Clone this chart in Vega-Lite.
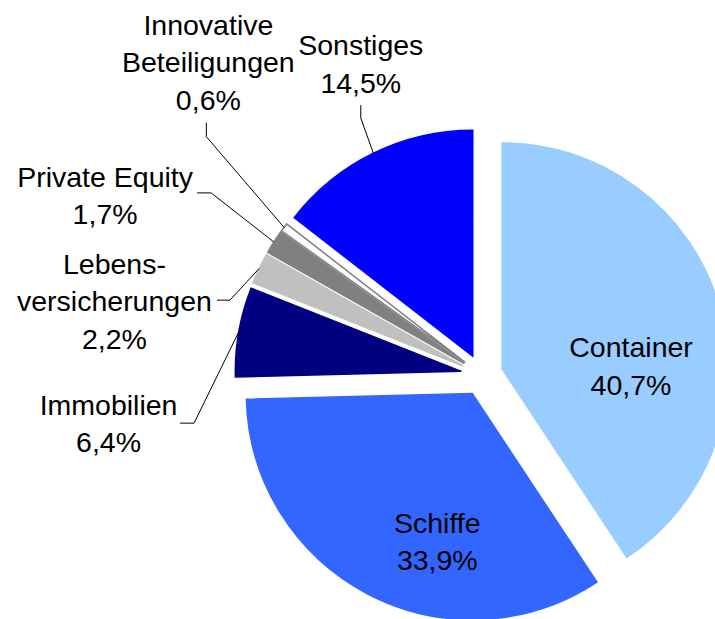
{
  "$schema": "https://vega.github.io/schema/vega-lite/v6.json",
  "width": 715,
  "height": 619,
  "autosize": {"type": "none"},
  "padding": 0,
  "background": "white",
  "config": {"view": {"stroke": null}},
  "params": [
    {"name": "pieX", "value": 482},
    {"name": "pieY", "value": 375},
    {"name": "pieR", "value": 226},
    {"name": "explode", "value": 21},
    {"name": "lh", "value": 37.5},
    {"name": "labels", "value": {
      "Container": {"da": 13.3, "r": 149.3},
      "Schiffe": {"da": -12.5, "r": 172.3},
      "Immobilien": {"da": -17.5, "r": 376.6, "ex": 71.5, "ey": -0.5, "bx": 85.5, "by": -0.5},
      "Lebensversicherungen": {"da": -14.2, "r": 374.9, "ex": 102.5, "ey": -1, "bx": 115.5, "by": -1},
      "Private Equity": {"da": -7.1, "r": 417.5, "ex": 92, "ey": -2.5, "bx": 106, "by": -2.5},
      "Innovative Beteiligungen": {"da": 12.1, "r": 415.6, "ex": -2, "ey": 60.5, "bx": -2, "by": 74.5},
      "Sonstiges": {"da": 4.8, "r": 333.7, "ex": 0, "ey": 41, "bx": 0, "by": 54}
    }}
  ],
  "data": {"values": [
    {"Kategorie": "Container", "Anteil": 40.7},
    {"Kategorie": "Schiffe", "Anteil": 33.9},
    {"Kategorie": "Immobilien", "Anteil": 6.4},
    {"Kategorie": "Lebensversicherungen", "Anteil": 2.2},
    {"Kategorie": "Private Equity", "Anteil": 1.7},
    {"Kategorie": "Innovative Beteiligungen", "Anteil": 0.6},
    {"Kategorie": "Sonstiges", "Anteil": 14.5}
  ]},
  "transform": [
    {"window": [{"op": "sum", "field": "Anteil", "as": "cum"}], "frame": [null, 0]},
    {"calculate": "datum.cum - datum.Anteil", "as": "s0"},
    {"calculate": "(datum.cum - datum.Anteil / 2) * PI / 50", "as": "mid"},
    {"calculate": "replace(replace(datum.Kategorie, 'Lebensversicherungen', 'Lebens-\\nversicherungen'), 'Innovative Beteiligungen', 'Innovative\\nBeteiligungen') + '\\n' + replace(format(datum.Anteil, '.1f'), '.', ',') + '%'", "as": "txt"}
  ],
  "layer": [
    {
      "mark": {
        "type": "arc",
        "radius": 226,
        "strokeWidth": 1.5,
        "x": {"expr": "pieX + explode * sin(datum.mid)"},
        "y": {"expr": "pieY - explode * cos(datum.mid)"}
      },
      "encoding": {
        "theta": {"field": "s0", "type": "quantitative", "scale": {"domain": [0, 100], "range": [0, 6.283185307179586]}},
        "theta2": {"field": "cum"},
        "fill": {
          "field": "Kategorie", "type": "nominal", "legend": null,
          "scale": {
            "domain": ["Container", "Schiffe", "Immobilien", "Lebensversicherungen", "Private Equity", "Innovative Beteiligungen", "Sonstiges"],
            "range": ["#99CCFF", "#3366FF", "#000080", "#C0C0C0", "#808080", "#FFFFFF", "#0000FF"]
          }
        },
        "stroke": {
          "field": "Kategorie", "type": "nominal", "legend": null,
          "scale": {
            "domain": ["Container", "Schiffe", "Immobilien", "Lebensversicherungen", "Private Equity", "Innovative Beteiligungen", "Sonstiges"],
            "range": ["#99CCFF", "#3366FF", "#000080", "#C0C0C0", "#808080", "#808080", "#0000FF"]
          }
        }
      }
    },
    {
      "transform": [{"filter": "datum.Anteil < 20"}],
      "mark": {"type": "rule", "color": "#000000", "strokeWidth": 1},
      "encoding": {
        "x": {"value": {"expr": "pieX + (pieR + explode) * sin(datum.mid)"}},
        "y": {"value": {"expr": "pieY - (pieR + explode) * cos(datum.mid)"}},
        "x2": {"value": {"expr": "pieX + labels[datum.Kategorie].r * sin(datum.mid + labels[datum.Kategorie].da * PI / 180) + labels[datum.Kategorie].bx"}},
        "y2": {"value": {"expr": "pieY - labels[datum.Kategorie].r * cos(datum.mid + labels[datum.Kategorie].da * PI / 180) + labels[datum.Kategorie].by"}}
      }
    },
    {
      "transform": [{"filter": "datum.Anteil < 20"}],
      "mark": {"type": "rule", "color": "#000000", "strokeWidth": 1},
      "encoding": {
        "x": {"value": {"expr": "pieX + labels[datum.Kategorie].r * sin(datum.mid + labels[datum.Kategorie].da * PI / 180) + labels[datum.Kategorie].bx"}},
        "y": {"value": {"expr": "pieY - labels[datum.Kategorie].r * cos(datum.mid + labels[datum.Kategorie].da * PI / 180) + labels[datum.Kategorie].by"}},
        "x2": {"value": {"expr": "pieX + labels[datum.Kategorie].r * sin(datum.mid + labels[datum.Kategorie].da * PI / 180) + labels[datum.Kategorie].ex"}},
        "y2": {"value": {"expr": "pieY - labels[datum.Kategorie].r * cos(datum.mid + labels[datum.Kategorie].da * PI / 180) + labels[datum.Kategorie].ey"}}
      }
    },
    {
      "mark": {
        "type": "text",
        "align": "center",
        "baseline": "alphabetic",
        "lineBreak": "\n",
        "lineHeight": 37.5,
        "font": "Liberation Sans",
        "fontSize": 28.5,
        "color": "#000000",
        "x": {"expr": "pieX + labels[datum.Kategorie].r * sin(datum.mid + labels[datum.Kategorie].da * PI / 180)"},
        "y": {"expr": "pieY - labels[datum.Kategorie].r * cos(datum.mid + labels[datum.Kategorie].da * PI / 180) - (length(split(datum.txt, '\\n')) - 1) * lh / 2 + 10"}
      },
      "encoding": {
        "text": {"field": "txt", "type": "nominal"}
      }
    }
  ]
}
